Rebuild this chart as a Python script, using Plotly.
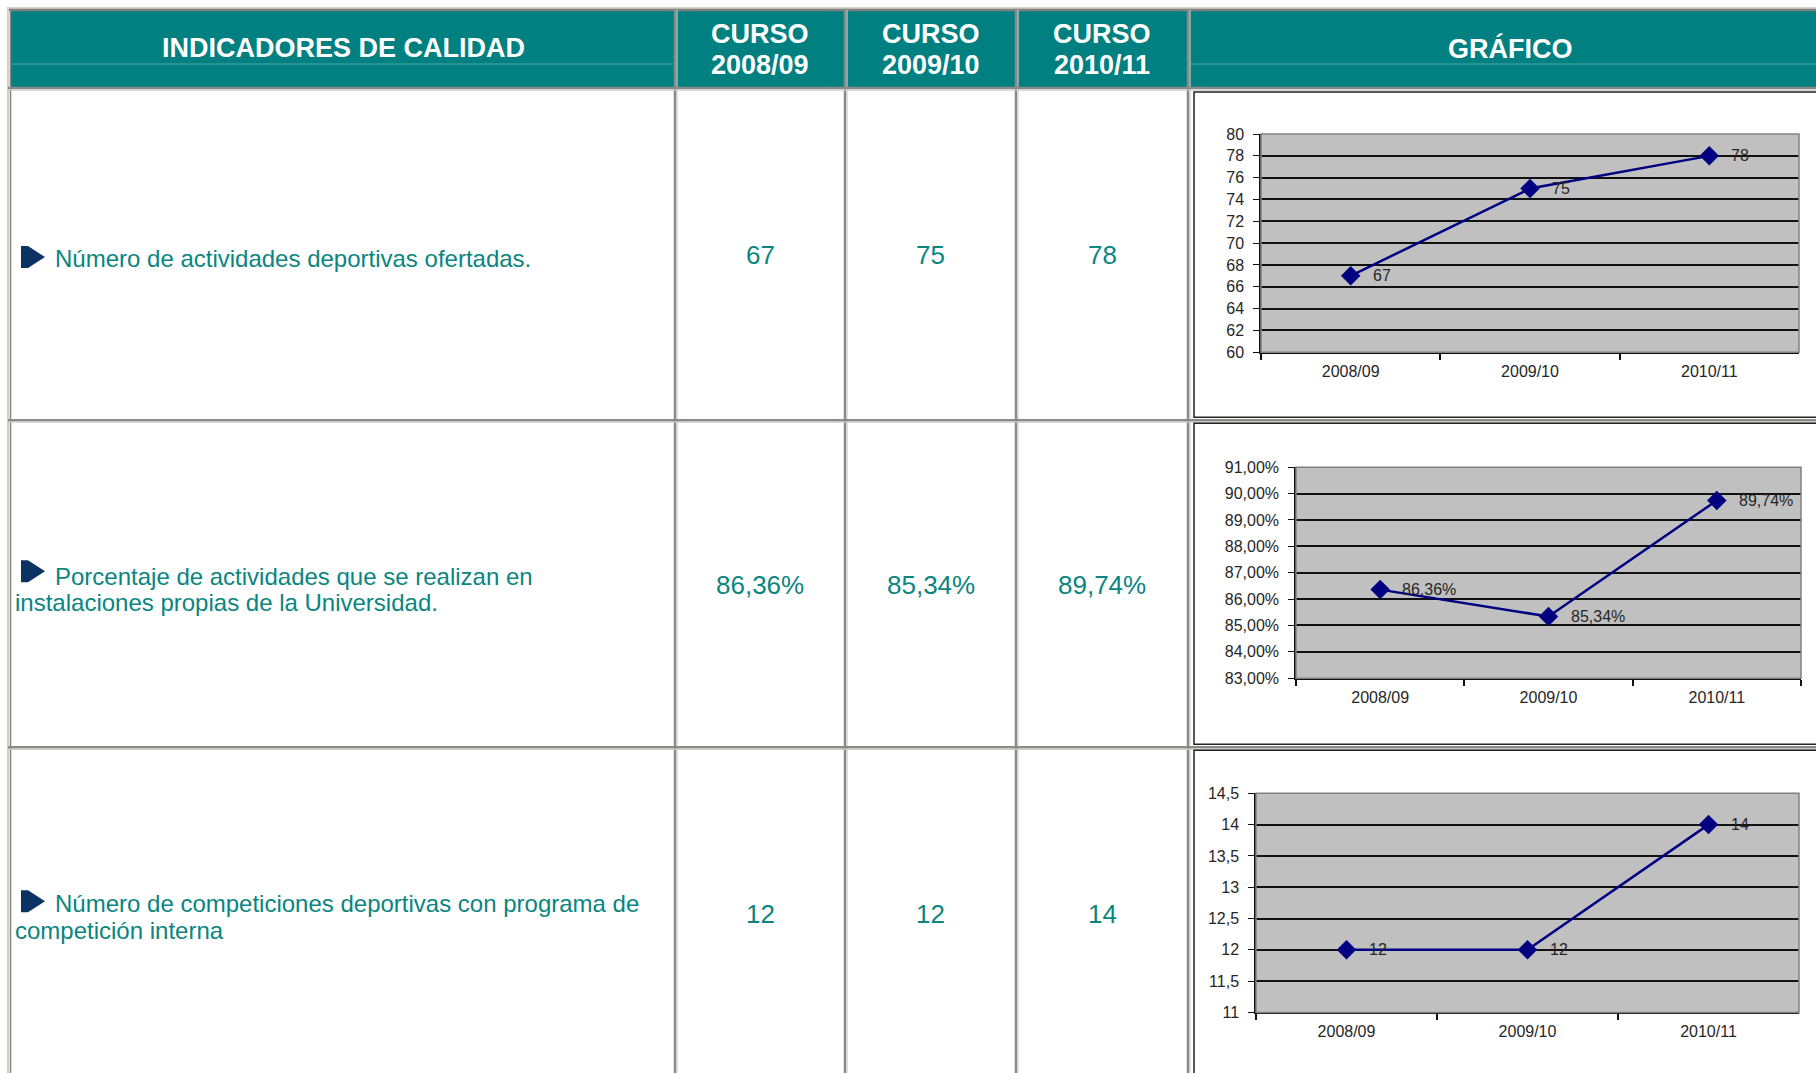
import plotly.graph_objects as go

W, H = 1816, 1073
H_FIG = 1090      # a bit taller than the window so the table runs to the bottom edge
Y_OFF = 8         # the page shows the figure 8px down...
Y_SCALE = 0.984   # ...and slightly squeezed vertically; compensate so marks land where intended

# ---------------- data ----------------
cursos = ["2008/09", "2009/10", "2010/11"]
header_cols = ["INDICADORES DE CALIDAD", "CURSO<br>2008/09", "CURSO<br>2009/10", "CURSO<br>2010/11", "GRÁFICO"]
indicador_1 = ["Número de actividades deportivas ofertadas."]
indicador_2 = ["Porcentaje de actividades que se realizan en", "instalaciones propias de la Universidad."]
indicador_3 = ["Número de competiciones deportivas con programa de", "competición interna"]
actividades_ofertadas = [67, 75, 78]
pct_instalaciones_propias = [0.8636, 0.8534, 0.8974]
competiciones_internas = [12, 12, 14]


def fmt_int(v):
    return f"{v:d}"


def fmt_pct(v):
    return f"{v * 100:.2f}%".replace(".", ",")


def fmt_num(v):
    return f"{v:g}".replace(".", ",")


# ---------------- layout geometry (pixels on screen) ----------------
TEAL = "#008080"
NAVY = "#000080"
col_x = [10, 675, 845, 1016, 1188, 1816]
row_y = [10, 88, 420, 747, 1073]


def px(x):
    return x / W


def py(y):
    return 1 - ((y - Y_OFF) / Y_SCALE) / H_FIG


fig = go.Figure()

charts = [
    dict(vals=actividades_ofertadas, fmt=fmt_int, rng=[60, 80], dtick=2, tf="d",
         box=(1261, 1799, 134, 352)),
    dict(vals=pct_instalaciones_propias, fmt=fmt_pct, rng=[0.83, 0.91], dtick=0.01, tf=".2%",
         box=(1296, 1801, 467, 678)),
    dict(vals=competiciones_internas, fmt=fmt_num, rng=[11, 14.5], dtick=0.5, tf="",
         box=(1256, 1799, 793, 1012)),
]

shapes = []
annotations = []

# header background
shapes.append(dict(type="rect", xref="paper", yref="paper", x0=px(10), x1=px(W), y0=py(11), y1=py(87),
                   fillcolor=TEAL, line=dict(width=0), layer="below"))
# light teal line inside header (first and last cells)
for xa, xb in [(12, 673), (1190, W)]:
    shapes.append(dict(type="line", xref="paper", yref="paper", x0=px(xa), x1=px(xb), y0=py(64), y1=py(64),
                       line=dict(color="#4fa8a8", width=1)))
# top border
shapes.append(dict(type="line", xref="paper", yref="paper", x0=px(7), x1=px(W), y0=py(8), y1=py(8),
                   line=dict(color="#d4d0c8", width=2)))
shapes.append(dict(type="line", xref="paper", yref="paper", x0=px(8), x1=px(W), y0=py(10), y1=py(10),
                   line=dict(color="#808080", width=2.5)))
# left border
shapes.append(dict(type="line", xref="paper", yref="paper", x0=px(8), x1=px(8), y0=py(7), y1=py(H + 20),
                   line=dict(color="#d4d0c8", width=2)))
shapes.append(dict(type="line", xref="paper", yref="paper", x0=px(10.5), x1=px(10.5), y0=py(9), y1=py(H + 20),
                   line=dict(color="#808080", width=1.5)))
# column dividers
for cx in col_x[1:-1]:
    shapes.append(dict(type="line", xref="paper", yref="paper", x0=px(cx), x1=px(cx), y0=py(10), y1=py(H + 20),
                       line=dict(color="#8a8a8a", width=2.5)))
    shapes.append(dict(type="line", xref="paper", yref="paper", x0=px(cx + 2), x1=px(cx + 2), y0=py(10),
                       y1=py(H + 20), line=dict(color="#cfcbc4", width=1.2)))
# row dividers
for ry in row_y[1:-1]:
    shapes.append(dict(type="line", xref="paper", yref="paper", x0=px(8), x1=px(W), y0=py(ry), y1=py(ry),
                       line=dict(color="#8a8a8a", width=2.5)))
    shapes.append(dict(type="line", xref="paper", yref="paper", x0=px(8), x1=px(W), y0=py(ry + 2), y1=py(ry + 2),
                       line=dict(color="#cfcbc4", width=1.2)))

# chart picture frames
for y0, y1 in [(92, 417), (423, 744), (750, H + 30)]:
    shapes.append(dict(type="rect", xref="paper", yref="paper", x0=px(1194), x1=px(W + 5), y0=py(y0), y1=py(y1),
                       line=dict(color="#222222", width=1.5)))

# header texts
hfont = dict(family="Liberation Sans, Arial, sans-serif", size=27, color="white")
annotations.append(dict(text="<b>%s</b>" % header_cols[0], x=px(343), y=py(48), xref="paper", yref="paper",
                        showarrow=False, xanchor="center", yanchor="middle", font=hfont))
annotations.append(dict(text="<b>%s</b>" % header_cols[4], x=px(1510), y=py(48), xref="paper", yref="paper",
                        showarrow=False, xanchor="center", yanchor="middle", font=hfont))
for i in range(3):
    cx = (col_x[i + 1] + col_x[i + 2]) / 2
    l1, l2 = header_cols[i + 1].split("<br>")
    annotations.append(dict(text="<b>%s</b>" % l1, x=px(cx), y=py(34), xref="paper", yref="paper",
                            showarrow=False, xanchor="center", yanchor="middle", font=hfont))
    annotations.append(dict(text="<b>%s</b>" % l2, x=px(cx), y=py(65), xref="paper", yref="paper",
                            showarrow=False, xanchor="center", yanchor="middle", font=hfont))

# indicator texts + arrow bullets
tfont = dict(family="Liberation Sans, Arial, sans-serif", size=24, color="#0a8580")
rows_text = [
    (indicador_1, [258], 257),
    (indicador_2, [576, 602], 571),
    (indicador_3, [903, 930], 901),
]
for lines, ys, ay in rows_text:
    for k, (line, yy) in enumerate(zip(lines, ys)):
        annotations.append(dict(text=line, x=px(53 if k == 0 else 13), y=py(yy), xref="paper", yref="paper",
                                showarrow=False, xanchor="left", yanchor="middle", font=tfont))
    path = "M {a},{b} L {c},{b} L {d},{e} L {c},{f} L {a},{f} Z".format(
        a=px(21), b=py(ay - 11), c=px(28), d=px(45), e=py(ay), f=py(ay + 11))
    shapes.append(dict(type="path", xref="paper", yref="paper", path=path, fillcolor="#0c3264",
                       line=dict(width=0)))

# value cells
vfont = dict(family="Liberation Sans, Arial, sans-serif", size=26, color="#0a8580")
row_vals = [
    ([fmt_int(v) for v in actividades_ofertadas], 255),
    ([fmt_pct(v) for v in pct_instalaciones_propias], 585),
    ([fmt_int(v) for v in competiciones_internas], 914),
]
for texts, yy in row_vals:
    for i, t in enumerate(texts):
        cx = (col_x[i + 1] + col_x[i + 2]) / 2
        annotations.append(dict(text=t, x=px(cx), y=py(yy), xref="paper", yref="paper",
                                showarrow=False, xanchor="center", yanchor="middle", font=vfont))

# charts
afont = dict(family="Liberation Sans, Arial, sans-serif", size=16, color="#262626")
layout_axes = {}
for n, ch in enumerate(charts, start=1):
    xa = "x" if n == 1 else f"x{n}"
    ya = "y" if n == 1 else f"y{n}"
    x0, x1, y0, y1 = ch["box"]
    fig.add_trace(go.Scatter(x=cursos, y=ch["vals"], xaxis=xa, yaxis=ya, mode="lines+markers",
                             line=dict(color=NAVY, width=2.5),
                             marker=dict(symbol="diamond", size=15, color=NAVY),
                             showlegend=False, hoverinfo="skip", cliponaxis=False))
    for c, v in zip(cursos, ch["vals"]):
        annotations.append(dict(text=ch["fmt"](v), x=c, y=v, xref=xa, yref=ya, showarrow=False,
                                xanchor="left", yanchor="middle", xshift=20, font=afont))
    # grey plot frame
    shapes.append(dict(type="rect", xref="paper", yref="paper", x0=px(x0), x1=px(x1), y0=py(y1), y1=py(y0),
                       line=dict(color="#808080", width=1.5)))
    xkey = "xaxis" if n == 1 else f"xaxis{n}"
    ykey = "yaxis" if n == 1 else f"yaxis{n}"
    layout_axes[xkey] = dict(domain=[px(x0), px(x1)], anchor=ya, type="category", range=[-0.5, 2.5],
                             showline=True, linecolor="#111111", linewidth=1.5, ticks="outside",
                             tickson="boundaries", ticklen=6, tickcolor="#111111", tickwidth=1.5,
                             ticklabelstandoff=4,
                             showgrid=False, tickfont=afont, fixedrange=True)
    layout_axes[ykey] = dict(domain=[py(y1), py(y0)], anchor=xa, range=ch["rng"], dtick=ch["dtick"],
                             tick0=ch["rng"][0], tickformat=ch["tf"], showline=True, linecolor="#111111",
                             linewidth=1.5, ticks="outside", ticklen=6, tickcolor="#111111",
                             ticklabelstandoff=6,
                             showgrid=True, gridcolor="#111111", gridwidth=1.6, zeroline=False,
                             tickfont=afont, fixedrange=True)

fig.update_layout(
    width=W, height=H_FIG, autosize=False,
    margin=dict(l=0, r=0, t=0, b=0, pad=0),
    paper_bgcolor="white", plot_bgcolor="#C0C0C0",
    separators=",.",
    shapes=shapes, annotations=annotations,
    **layout_axes,
)

post = "document.body.style.margin='0';document.body.style.overflow='hidden';"
fig.write_html("out.html", post_script=post, config={"displayModeBar": False})
